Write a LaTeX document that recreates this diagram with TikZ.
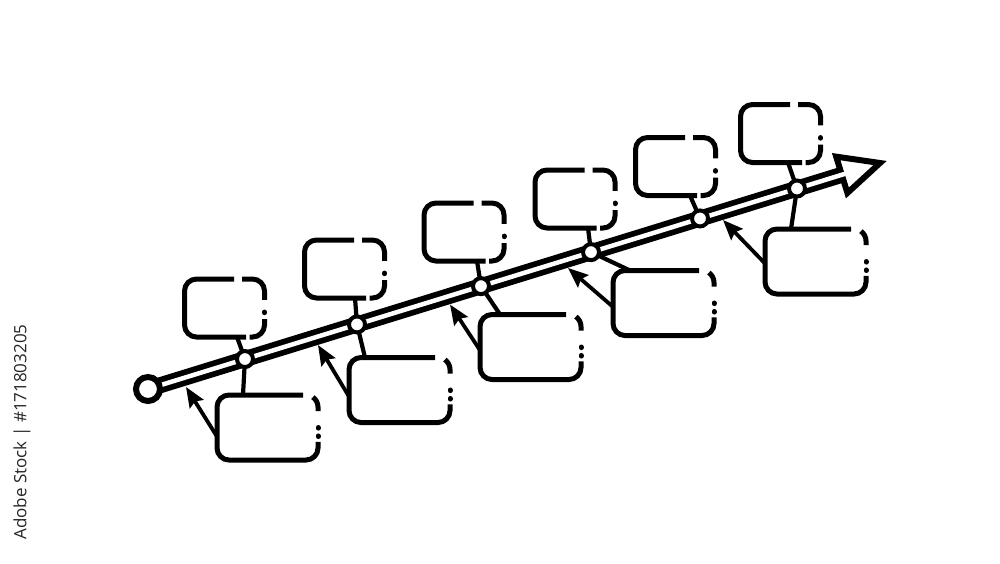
\documentclass[tikz,border=0pt]{standalone}
\usepackage{fontspec}
\setmainfont{Open Sans}
\usetikzlibrary{calc,arrows.meta}
\pgfdeclarelayer{paper}
\pgfdeclarelayer{background}
\pgfsetlayers{paper,background,main}
\newcommand\upperoutline[1]{%
  \draw[piece, rounded corners=12pt] ($(#1.north west)!0.62!(#1.north east)$) -- (#1.north west) -- (#1.south west) -- ($(#1.south west)!0.77!(#1.south east)$);
  \draw[piece] ($(#1.north west)!0.72!(#1.north east)$) -- ([xshift=-12pt]#1.north east) arc[start angle=90,end angle=0,radius=12pt] -- ($(#1.north east)!0.36!(#1.south east)$);
  \draw[dotpiece] ($(#1.north east)!0.57!(#1.south east)$) -- ++(0,-0.6pt);
  \draw[piece] ($(#1.north east)!0.69!(#1.south east)$) -- ([yshift=12pt]#1.south east) arc[start angle=0,end angle=-90,radius=12pt] -- ++(-3pt,0);
}
\newcommand\loweroutline[1]{%
  \draw[piece, rounded corners=12pt] ([xshift=-15pt]#1.north east) -- (#1.north west) -- (#1.south west) -- (#1.south east) -- ($(#1.south east)!0.28!(#1.north east)$);
  \draw[piece] ([shift={(-12pt,-12pt)}]#1.north east) ++(55:12pt) arc[start angle=55,end angle=0,radius=12pt] -- ++(0,-4pt);
  \draw[dotpiece] ($(#1.north east)!0.50!(#1.south east)$) -- ++(0,-0.6pt);
  \draw[dotpiece] ($(#1.north east)!0.63!(#1.south east)$) -- ++(0,-0.6pt);
}
\begin{document}
\begin{tikzpicture}[x=1pt,y=1pt,
  boxarea/.style={rectangle, draw=none, inner sep=0pt, outer sep=0pt},
  ubox/.style={boxarea, minimum width=80pt, minimum height=58pt},
  lbox/.style={boxarea, minimum width=101pt, minimum height=65pt},
  piece/.style={line width=5pt},
  dotpiece/.style={line width=5pt, line cap=round},
  tnode/.style={circle, draw, fill=white, line width=4pt, minimum size=16pt, inner sep=0pt},
  startnode/.style={circle, draw, fill=white, line width=6pt, minimum size=24pt, inner sep=0pt},
  stem/.style={line width=4.2pt},
  pointer/.style={line width=3.8pt, -{Stealth[length=20pt,width=16pt,inset=3pt]}},
]
\begin{pgfonlayer}{paper}
  \fill[white] (0,0) rectangle (1000,-563);
\end{pgfonlayer}
\useasboundingbox (0,0) rectangle (1000,-563);

% main line geometry
\node[startnode] (s) at (148,-389) {};
\coordinate (T) at (880,-163);
\coordinate (B) at ($(T)!40pt!(s.center)$);
\path (s.center) -- (886,-161)
  coordinate[pos=0.1314] (p1)
  coordinate[pos=0.2832] (p2)
  coordinate[pos=0.4512] (p3)
  coordinate[pos=0.6003] (p4)
  coordinate[pos=0.7480] (p5)
  coordinate[pos=0.8794] (p6);

\foreach \i in {1,...,6} { \node[tnode] (c\i) at (p\i) {}; }

% upper boxes
\node[ubox] (U1) at (224.5,-308) {};
\node[ubox] (U2) at (344.5,-269) {};
\node[ubox] (U3) at (464,-232) {};
\node[ubox] (U4) at (575,-199) {};
\node[ubox] (U5) at (675.5,-166.5) {};
\node[ubox] (U6) at (780.5,-133.5) {};
\foreach \b in {U1,U2,U3,U4,U5,U6} { \upperoutline{\b} }

% lower boxes
\node[lbox] (L1) at (267.5,-427.5) {};
\node[lbox] (L2) at (399.5,-390) {};
\node[lbox] (L3) at (530.5,-347) {};
\node[lbox] (L4) at (663.5,-303) {};
\node[lbox] (L5) at (815.5,-261.5) {};
\foreach \b in {L1,L2,L3,L4,L5} { \loweroutline{\b} }

% pointers
\coordinate (t1) at (186,-387);
\coordinate (t2) at (318,-345);
\coordinate (t3) at (450,-304.5);
\coordinate (t4) at (568,-268);
\coordinate (t5) at (723,-220);
\draw[pointer] ($(L1.north west)!0.64!(L1.south west)$) -- (t1);
\draw[pointer] ($(L2.north west)!0.60!(L2.south west)$) -- (t2);
\draw[pointer] ($(L3.north west)!0.55!(L3.south west)$) -- (t3);
\draw[pointer] ($(L4.north west)!0.56!(L4.south west)$) -- (t4);
\draw[pointer] ($(L5.north west)!0.53!(L5.south west)$) -- (t5);

\begin{pgfonlayer}{background}
  \draw[line width=16pt] (s.center) -- (B);
  \draw[line width=6pt, fill=white, line join=miter] (T) -- ($(B)!19pt!90:(T)$) -- ($(B)!19pt!-90:(T)$) -- cycle;
  \draw[white, line width=4.5pt] (s.center) -- ($(B)!9pt!(T)$);
  \draw[stem] (c1.center) -- ([xshift=12.5pt]U1.south);
  \draw[stem] (c2.center) -- ([xshift=10.5pt]U2.south);
  \draw[stem] (c3.center) -- ([xshift=13pt]U3.south);
  \draw[stem] (c4.center) -- ([xshift=13pt]U4.south);
  \draw[stem] (c5.center) -- ([xshift=14.5pt]U5.south);
  \draw[stem] (c6.center) -- ([xshift=7.5pt]U6.south);
  \draw[stem] (c1.center) -- ([xshift=-24.5pt]L1.north);
  \draw[stem] (c2.center) -- ([xshift=-34.5pt]L2.north);
  \draw[stem] (c3.center) -- ([xshift=-30.5pt]L3.north);
  \draw[stem] (c4.center) -- ([xshift=-33.5pt]L4.north);
  \draw[stem] (c6.center) -- ([xshift=-24.5pt]L5.north);
\end{pgfonlayer}

\node[rotate=90, text=black!85, font=\fontsize{17}{17}\selectfont] (wm) at (22,-432) {Adobe Stock | \#171803205};
\end{tikzpicture}
\end{document}
